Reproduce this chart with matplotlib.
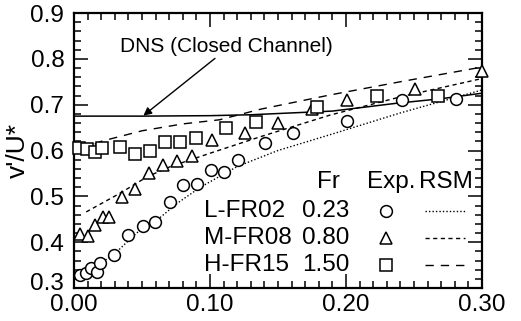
import matplotlib
matplotlib.use("Agg")
import matplotlib.pyplot as plt
from matplotlib.ticker import MultipleLocator, FormatStrFormatter, FuncFormatter
from matplotlib.lines import Line2D
from matplotlib.transforms import offset_copy

plt.rcParams['font.family'] = ['Liberation Sans', 'DejaVu Sans']

# Experimental data: wall-normal turbulence intensity v'/U* vs y/h
x_L = [0.0044, 0.0088, 0.0123, 0.0167, 0.0191, 0.0296, 0.0399, 0.0505, 0.0596, 0.0706,
       0.0799, 0.0902, 0.1007, 0.1103, 0.1208, 0.1408, 0.1607, 0.2007, 0.2410, 0.2810]
y_L = [0.328, 0.333, 0.343, 0.336, 0.354, 0.373, 0.416, 0.436, 0.445, 0.488,
       0.525, 0.528, 0.557, 0.553, 0.579, 0.617, 0.638, 0.664, 0.711, 0.712]

x_M = [0.0044, 0.0103, 0.0154, 0.0215, 0.0257, 0.0351, 0.0449, 0.0551, 0.0651, 0.0755,
       0.0871, 0.1013, 0.1254, 0.1502, 0.1750, 0.2007, 0.2511, 0.3000]
y_M = [0.418, 0.413, 0.437, 0.455, 0.455, 0.499, 0.515, 0.551, 0.568, 0.578,
       0.587, 0.623, 0.639, 0.660, 0.690, 0.710, 0.734, 0.773]

x_H = [0.0037, 0.0096, 0.0154, 0.0206, 0.0338, 0.0449, 0.0559, 0.0669, 0.0779, 0.0897,
       0.1118, 0.1338, 0.1785, 0.2232, 0.2679]
y_H = [0.605, 0.603, 0.597, 0.605, 0.607, 0.592, 0.600, 0.619, 0.619, 0.627,
       0.650, 0.663, 0.694, 0.718, 0.720]

# RSM predictions
rsm_L_x = [0.008, 0.029, 0.046, 0.061, 0.076, 0.093, 0.12, 0.15, 0.19, 0.24, 0.30]
rsm_L_y = [0.333, 0.372, 0.420, 0.448, 0.485, 0.520, 0.565, 0.600, 0.636, 0.682, 0.732]

rsm_M_x = [0.009, 0.034, 0.054, 0.071, 0.085, 0.10, 0.137, 0.188, 0.24, 0.30]
rsm_M_y = [0.466, 0.507, 0.543, 0.565, 0.579, 0.594, 0.630, 0.677, 0.717, 0.757]

rsm_H_x = [0.005, 0.02, 0.05, 0.08, 0.107, 0.137, 0.188, 0.24, 0.30]
rsm_H_y = [0.600, 0.620, 0.643, 0.658, 0.667, 0.690, 0.721, 0.750, 0.782]

# DNS closed channel
dns_x = [0.0, 0.05, 0.10, 0.13, 0.16, 0.19, 0.237, 0.27, 0.30]
dns_y = [0.675, 0.675, 0.676, 0.678, 0.682, 0.686, 0.703, 0.713, 0.725]

cases = ['L-FR02', 'M-FR08', 'H-FR15']
froude = ['0.23', '0.80', '1.50']
markers = ['o', '^', 's']
styles = [(0, (1, 1.5)), (0, (3, 2.5)), (0, (6, 5))]

fig = plt.figure(figsize=(5.21, 3.21), dpi=100)
ax = fig.add_axes([0.142, 0.1028, 0.783, 0.8567])

ax.plot(dns_x, dns_y, color='black', lw=1.1)
for rx, ry, ls in zip([rsm_L_x, rsm_M_x, rsm_H_x], [rsm_L_y, rsm_M_y, rsm_H_y], styles):
    ax.plot(rx, ry, color='black', lw=1.0, linestyle=ls)
for xs, ys, m in zip([x_L, x_M, x_H], [y_L, y_M, y_H], markers):
    ax.plot(xs, ys, linestyle='none', marker=m, ms=8.5, mfc='white', mec='black',
            mew=1.1, clip_on=False, zorder=3)

ax.text(0.112, 0.826, 'DNS (Closed Channel)', ha='center', va='center', fontsize=15)
ax.annotate('', xy=(0.051, 0.676), xytext=(0.1037, 0.801),
            arrowprops=dict(arrowstyle='-|>', color='black', lw=1.0,
                            shrinkA=0, shrinkB=0, mutation_scale=12))

# Table-style legend
tx_name, tx_fr, tx_exp, tx_rsm0, tx_rsm1 = 0.0956, 0.1676, 0.2294, 0.258, 0.2875
row_y = [0.468, 0.409, 0.350]
head_y = 0.532
ax.text(0.1868, head_y, 'Fr', ha='center', va='center', fontsize=17.5)
ax.text(0.233, head_y, 'Exp.', ha='center', va='center', fontsize=17.5)
ax.text(0.2735, head_y, 'RSM', ha='center', va='center', fontsize=17.5)
for i in range(3):
    ax.text(tx_name, row_y[i], cases[i], ha='left', va='center', fontsize=17.5)
    ax.text(tx_fr, row_y[i], froude[i], ha='left', va='center', fontsize=17.5)
    ax.plot([tx_exp], [row_y[i]], marker=markers[i], ms=8.5, mfc='white',
            mec='black', mew=1.1, linestyle='none')
    ax.add_line(Line2D([tx_rsm0, tx_rsm1], [row_y[i], row_y[i]], color='black',
                       lw=1.0, linestyle=styles[i]))

ymin, ymax = 0.3, 0.9
ax.set_xlim(0, 0.30)
ax.set_ylim(ymin, ymax)
ax.xaxis.set_major_locator(MultipleLocator(0.1))
ax.xaxis.set_minor_locator(MultipleLocator(0.01))
ax.yaxis.set_major_locator(MultipleLocator(0.1))
ax.yaxis.set_minor_locator(MultipleLocator(0.02))
ax.xaxis.set_major_formatter(FormatStrFormatter('%.2f'))
# the bottom y label is drawn separately, nudged up to clear the x labels
ax.yaxis.set_major_formatter(FuncFormatter(
    lambda v, p: '' if abs(v - ymin) < 1e-9 else '%.1f' % v))
ax.tick_params(which='both', direction='in', top=True, right=True, width=1.1)
ax.tick_params(which='major', length=10)
ax.tick_params(which='minor', length=5)
ax.tick_params(axis='x', labelsize=17.5, pad=4)
ax.tick_params(axis='y', labelsize=17.5, pad=7)
for s in ax.spines.values():
    s.set_linewidth(1.6)

base = ax.get_yaxis_transform()
ax.text(0, ymin, '%.1f' % ymin, ha='right', va='center', fontsize=17.5,
        transform=offset_copy(base, fig=fig, x=-7, y=3, units='points'))

ax.set_ylabel("v'/U*", fontsize=19, labelpad=0)

fig.savefig('out.png', dpi=100)
